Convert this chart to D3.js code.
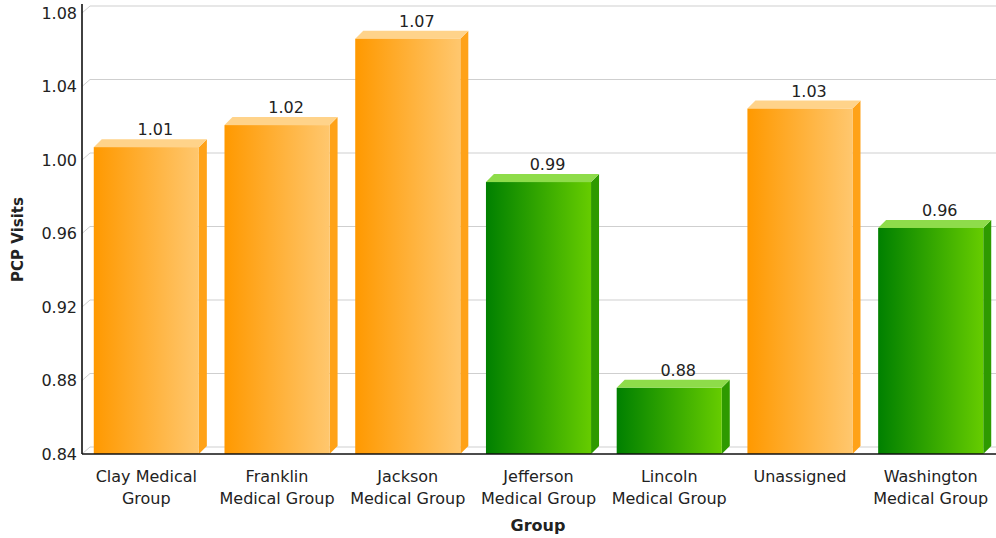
<!DOCTYPE html>
<html>
<head>
<meta charset="utf-8">
<script src="https://cdn.jsdelivr.net/npm/d3@7"></script>
<style>
  body { margin: 0; background: #fff; }
  text { font-family: "DejaVu Sans", Verdana, sans-serif; fill: #222; }
</style>
</head>
<body>
<div id="chart"></div>
<script>
// Data
const groups = ["Clay Medical Group", "Franklin Medical Group", "Jackson Medical Group",
  "Jefferson Medical Group", "Lincoln Medical Group", "Unassigned", "Washington Medical Group"];
const labelLines = [["Clay Medical", "Group"], ["Franklin", "Medical Group"], ["Jackson", "Medical Group"],
  ["Jefferson", "Medical Group"], ["Lincoln", "Medical Group"], ["Unassigned"], ["Washington", "Medical Group"]];
const visits = [1.007, 1.019, 1.066, 0.988, 0.876, 1.028, 0.963];
const colorKind = ["orange", "orange", "orange", "green", "green", "orange", "green"];
const yTicks = [0.84, 0.88, 0.92, 0.96, 1.00, 1.04, 1.08];

const W = 996, H = 538;
const depth = 8;
const plotLeft = 82, plotRight = 1003, plotTop = 13, plotBottom = 454;

const svg = d3.select("#chart").append("svg")
    .attr("width", W)
    .attr("height", H);

const defs = svg.append("defs");
const palettes = {
  orange: { from: "#ff9900", to: "#ffc76e", top: "#ffd38a", side: "#ffa218" },
  green:  { from: "#008000", to: "#66cc00", top: "#8edc4a", side: "#2e9a00" }
};
Object.entries(palettes).forEach(([k, p]) => {
  const g = defs.append("linearGradient").attr("id", "grad-" + k)
      .attr("x1", "0%").attr("x2", "100%").attr("y1", "0%").attr("y2", "0%");
  g.append("stop").attr("offset", "0%").attr("stop-color", p.from);
  g.append("stop").attr("offset", "100%").attr("stop-color", p.to);
});

// Scales
const x = d3.scaleBand()
    .domain(groups)
    .range([plotLeft, plotRight])
    .paddingInner(0.135)
    .paddingOuter(0.09);

const y = d3.scaleLinear()
    .domain([0.84, 1.08])
    .range([plotBottom, plotTop]);

const barW = x.bandwidth() - depth;

// Gridlines (drawn on the back wall, with a short diagonal from the axis)
svg.append("g").selectAll("path")
    .data(yTicks)
    .join("path")
    .attr("d", d => `M${plotLeft},${y(d)}L${plotLeft + depth},${y(d) - depth + 1}L${W},${y(d) - depth + 1}`)
    .attr("fill", "none")
    .attr("stroke", "#cfcfcf")
    .attr("stroke-width", 1);

// Bars
const bars = svg.append("g").selectAll("g")
    .data(groups.map((g, i) => ({ group: g, value: visits[i], kind: colorKind[i] })))
    .join("g");

bars.append("path") // side
    .attr("d", d => {
      const x1 = x(d.group) + barW, yt = y(d.value);
      return `M${x1},${yt}L${x1 + depth},${yt - depth}L${x1 + depth},${plotBottom - depth}L${x1},${plotBottom}Z`;
    })
    .attr("fill", d => palettes[d.kind].side);

bars.append("path") // top
    .attr("d", d => {
      const x0 = x(d.group), yt = y(d.value);
      return `M${x0},${yt}L${x0 + depth},${yt - depth}L${x0 + barW + depth},${yt - depth}L${x0 + barW},${yt}Z`;
    })
    .attr("fill", d => palettes[d.kind].top);

bars.append("rect") // front
    .attr("x", d => x(d.group))
    .attr("y", d => y(d.value))
    .attr("width", barW)
    .attr("height", d => plotBottom - y(d.value))
    .attr("fill", d => `url(#grad-${d.kind})`);

bars.append("text")
    .attr("x", d => x(d.group) + barW / 2 + depth + 1)
    .attr("y", d => y(d.value) - depth - 4)
    .attr("text-anchor", "middle")
    .attr("font-size", 16)
    .text(d => d3.format(".2f")(d.value));

// Axes
svg.append("line")
    .attr("x1", plotLeft).attr("x2", plotLeft)
    .attr("y1", 4).attr("y2", plotBottom)
    .attr("stroke", "#111").attr("stroke-width", 1.6);
svg.append("line")
    .attr("x1", plotLeft).attr("x2", W)
    .attr("y1", plotBottom).attr("y2", plotBottom)
    .attr("stroke", "#111").attr("stroke-width", 1.6);

svg.append("g").selectAll("text")
    .data(yTicks)
    .join("text")
    .attr("x", plotLeft - 5)
    .attr("y", d => y(d))
    .attr("dy", "0.36em")
    .attr("text-anchor", "end")
    .attr("font-size", 16)
    .text(d => d3.format(".2f")(d));

const xl = svg.append("g").selectAll("text")
    .data(groups.map((g, i) => ({ group: g, lines: labelLines[i] })))
    .join("text")
    .attr("text-anchor", "middle")
    .attr("font-size", 16);
xl.selectAll("tspan")
    .data(d => d.lines.map(l => ({ l, cx: x(d.group) + barW / 2 })))
    .join("tspan")
    .attr("x", d => d.cx)
    .attr("y", (d, i) => 482 + i * 22)
    .text(d => d.l);

svg.append("text")
    .attr("x", (plotLeft + W) / 2 - 1)
    .attr("y", 531)
    .attr("text-anchor", "middle")
    .attr("font-size", 16)
    .attr("font-weight", "bold")
    .text("Group");

svg.append("text")
    .attr("transform", `translate(23,${(plotTop + plotBottom) / 2 + 6}) rotate(-90)`)
    .attr("text-anchor", "middle")
    .attr("font-size", 15)
    .attr("font-weight", "bold")
    .text("PCP Visits");
</script>
</body>
</html>
